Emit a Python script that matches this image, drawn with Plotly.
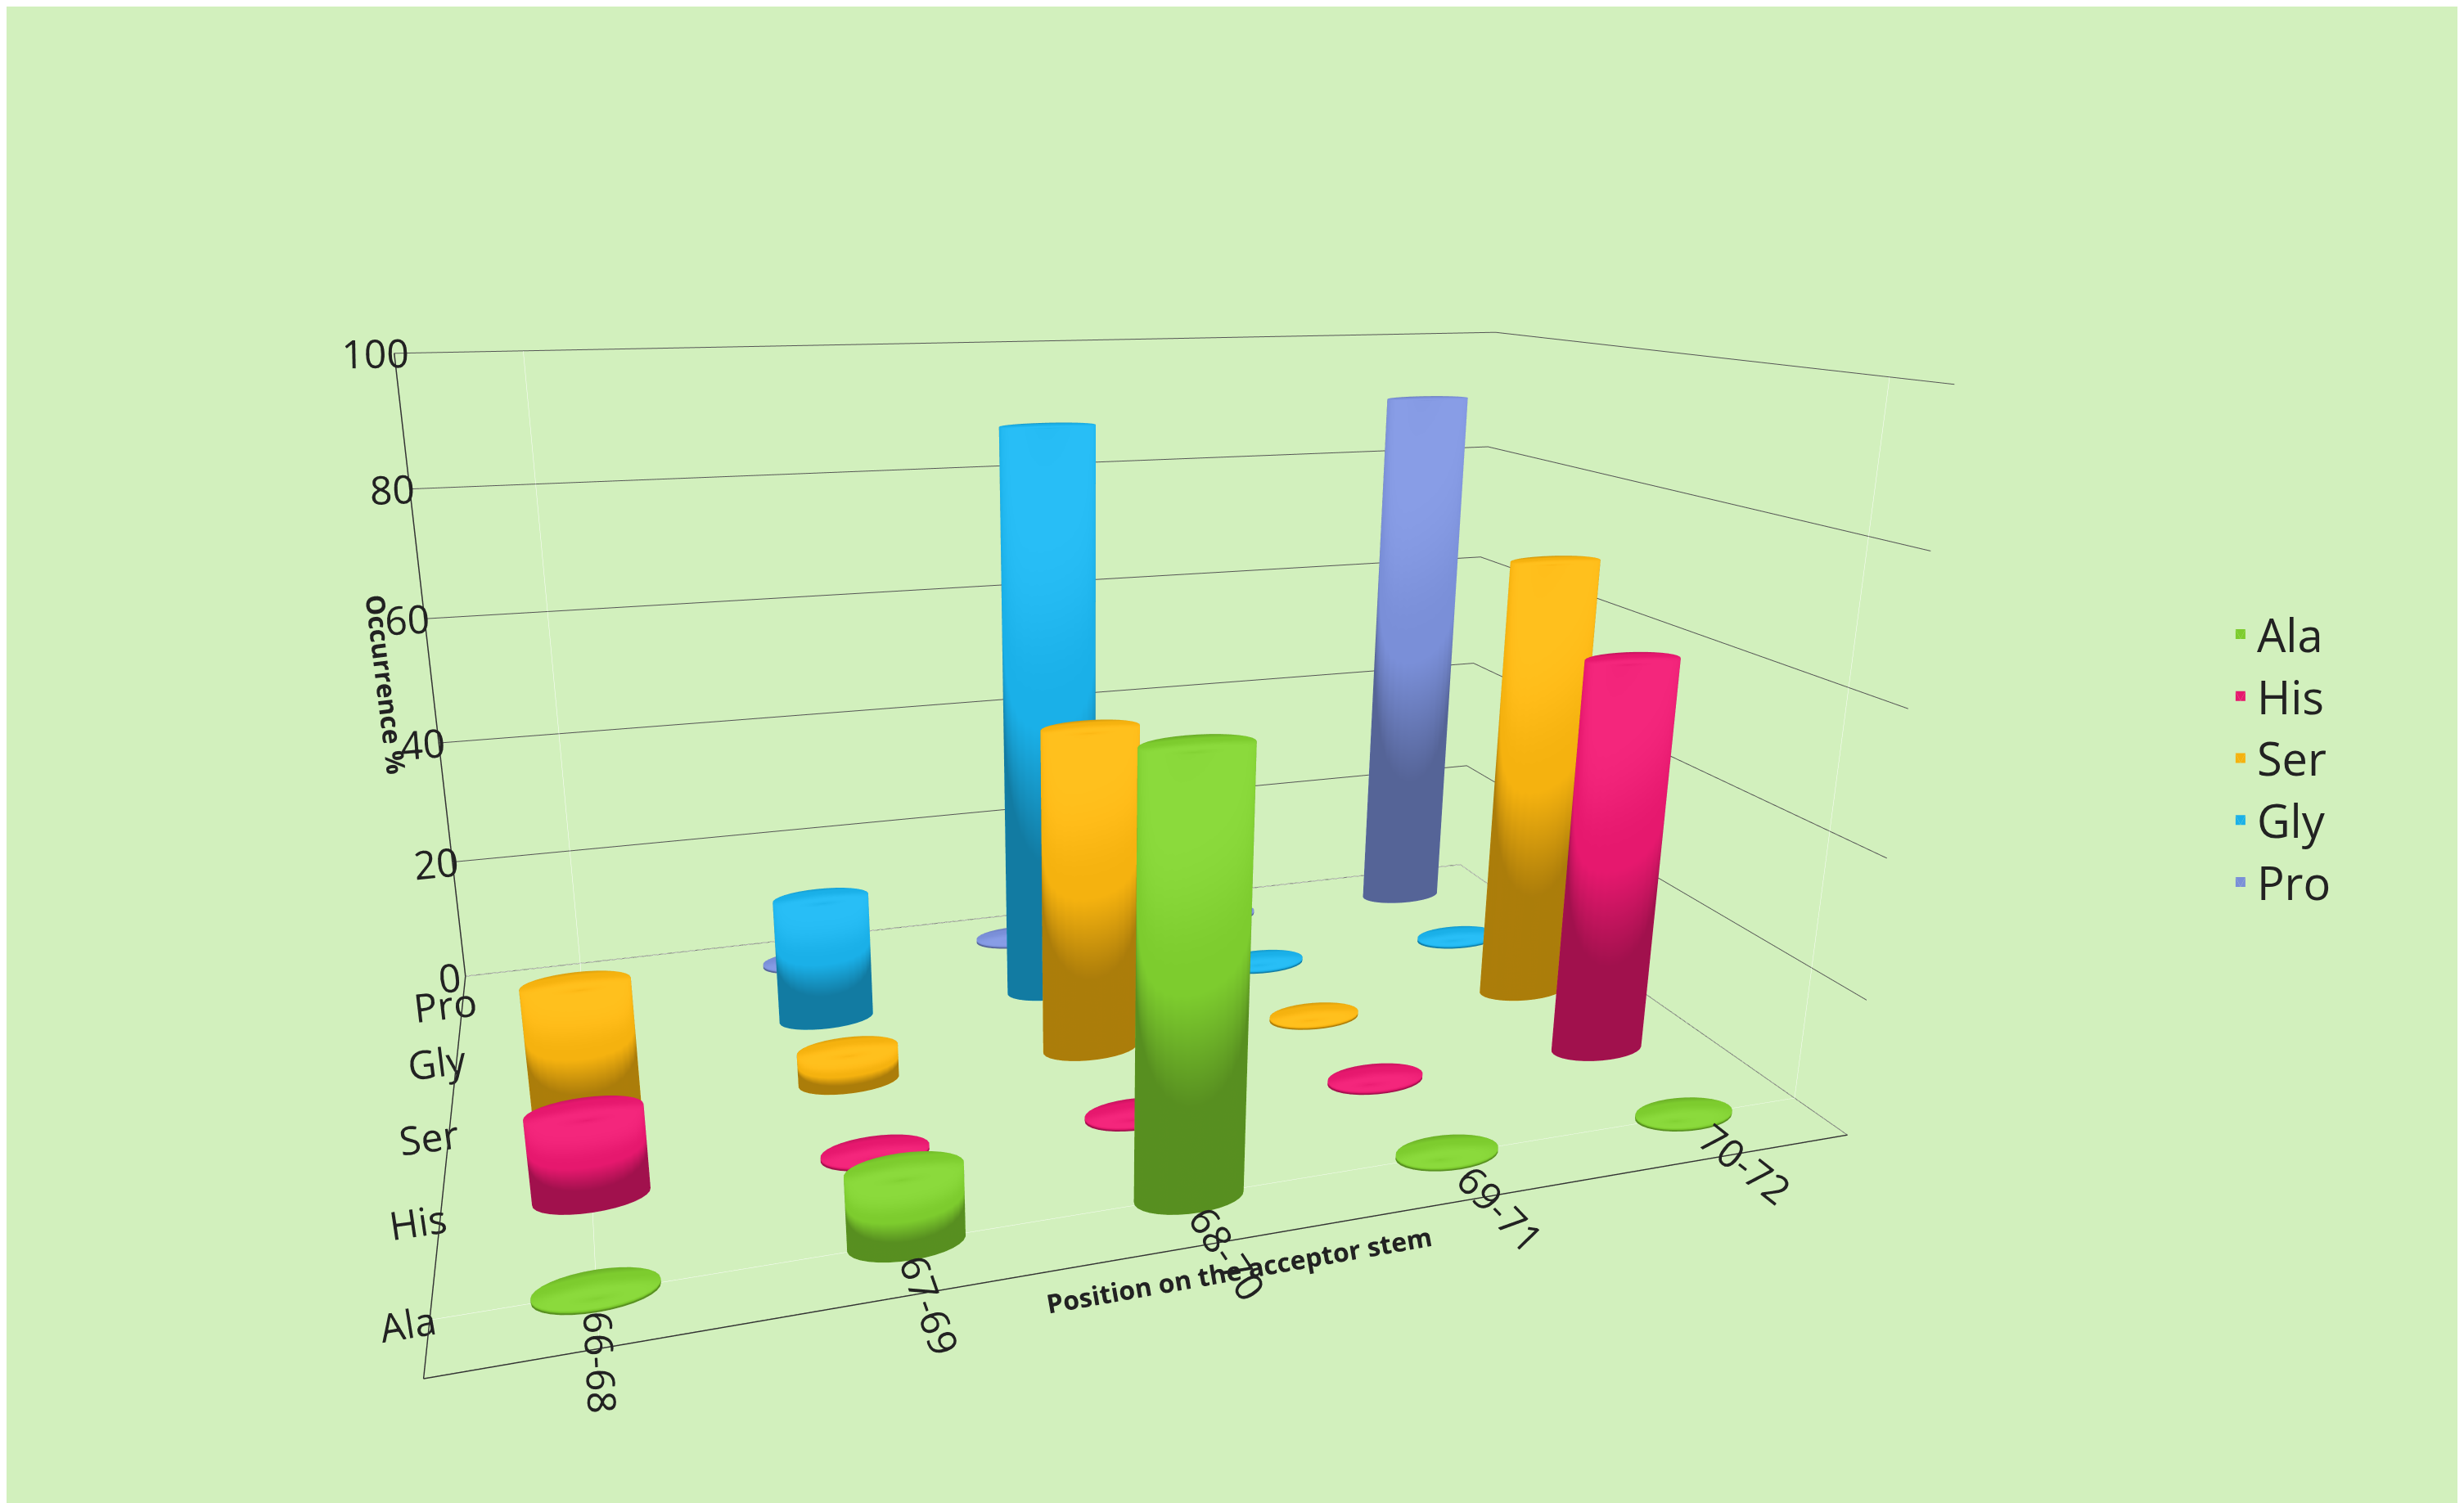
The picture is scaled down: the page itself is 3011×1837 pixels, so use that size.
import numpy as np
import plotly.graph_objects as go

positions = ["66-68", "67-69", "68-70", "69-71", "70-72"]
acids = ["Ala", "His", "Ser", "Gly", "Pro"]
values = {
    "Ala": [0, 10, 60, 0, 0],
    "His": [12, 0, 0, 0, 60],
    "Ser": [20, 5, 50, 0, 70],
    "Gly": [0, 20, 90, 0, 0],
    "Pro": [0, 0, 0, 0, 90],
}
colors = {"Ala": "#7dcc2e", "His": "#e6186e", "Ser": "#f5b20f",
          "Gly": "#1ab0e8", "Pro": "#7a8fd8"}

def cylinders(xs, ys, hs, r=0.2, n=32):
    X, Y, Z, I, J, K = [], [], [], [], [], []
    t = np.linspace(0, 2*np.pi, n, endpoint=False)
    for cx, cy, h in zip(xs, ys, hs):
        h = max(h, 0.6)
        b = len(X)
        for zz in (0, h):
            X += list(cx + r*np.cos(t)); Y += list(cy + r*0.9*np.sin(t)); Z += [zz]*n
        X += [cx, cx]; Y += [cy, cy]; Z += [0, h]
        cb, ct = b + 2*n, b + 2*n + 1
        for k in range(n):
            k2 = (k+1) % n
            I += [b+k, b+k2]; J += [b+k2, b+n+k2]; K += [b+n+k, b+n+k]
            I += [cb, ct]; J += [b+k2, b+n+k]; K += [b+k, b+n+k2]
    return X, Y, Z, I, J, K

fig = go.Figure()
for yi, a in enumerate(acids):
    X, Y, Z, I, J, K = cylinders(range(len(positions)), [yi]*len(positions), values[a])
    fig.add_trace(go.Mesh3d(x=X, y=Y, z=Z, i=I, j=J, k=K, color=colors[a], name=a,
                            showlegend=True, flatshading=False,
                            lighting=dict(ambient=0.7, diffuse=0.6, specular=0.3, roughness=0.5),
                            lightposition=dict(x=-1000, y=-2000, z=1000)))

ax = dict(showbackground=False, gridcolor="#555", gridwidth=2, linecolor="#333",
          linewidth=3, tickfont=dict(size=24, color="#222"), showspikes=False)
fig.update_layout(
    width=3011, height=1837,
    paper_bgcolor="#d2f0bd",
    font=dict(family="Open Sans", color="#222"),
    margin=dict(l=0, r=0, t=0, b=0),
    legend=dict(x=0.9, y=0.5, xanchor="left", yanchor="middle", tracegroupgap=20,
                font=dict(size=56), itemsizing="constant", bgcolor="rgba(0,0,0,0)"),
    scene=dict(
        domain=dict(x=[0.03, 0.85], y=[0.02, 0.98]),
        xaxis=dict(ax, tickvals=list(range(5)), ticktext=positions, range=[-0.5, 4.5],
                   title=dict(text="<b>Position on the acceptor stem</b>", font=dict(size=32)), showgrid=False),
        yaxis=dict(ax, tickvals=list(range(5)), ticktext=acids, range=[-0.5, 4.5],
                   title=dict(text=""), showgrid=False),
        zaxis=dict(ax, tickvals=[0, 20, 40, 60, 80, 100], range=[0, 100],
                   title=dict(text="<b>Occurrence %</b>", font=dict(size=32))),
        aspectmode="manual", aspectratio=dict(x=2.0, y=1.2, z=1.1),
        camera=dict(eye=dict(x=-0.75, y=-2.5, z=0.75), center=dict(x=0, y=0, z=-0.05)),
    ),
)
fig.write_html("out.html")
